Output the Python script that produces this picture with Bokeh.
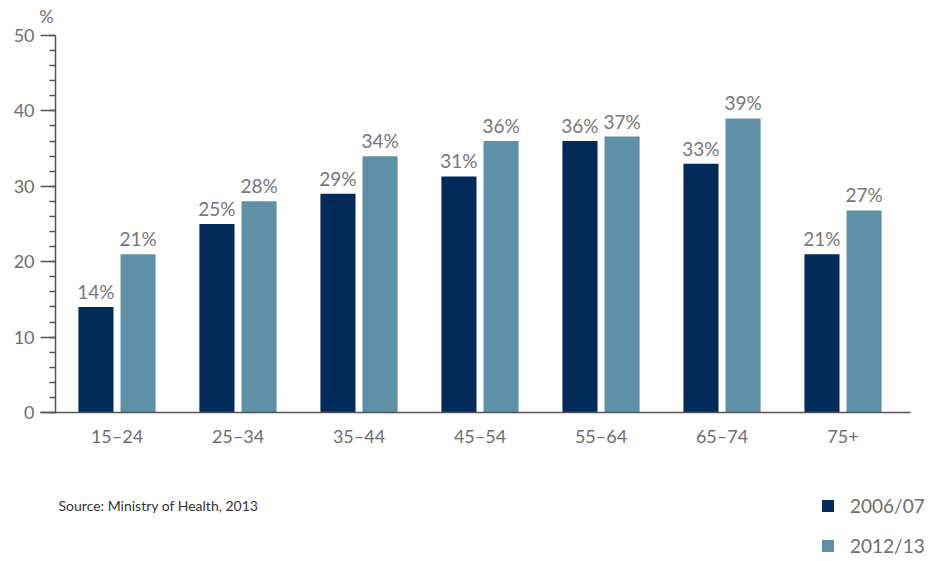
from bokeh.plotting import figure
from bokeh.models import (ColumnDataSource, Range1d, LabelSet, Label, Legend, LegendItem,
                          FixedTicker, LinearAxis)
from bokeh.core.properties import value
from bokeh.transform import dodge
from bokeh.embed import file_html
from bokeh.resources import INLINE

categories = ["15–24", "25–34", "35–44", "45–54", "55–64", "65–74", "75+"]
series_names = ["2006/07", "2012/13"]
values_2006 = [14, 25, 29, 31.3, 36, 33, 21]
values_2012 = [21, 28, 34, 36, 36.6, 39, 26.8]
labels_2006 = ["14%", "25%", "29%", "31%", "36%", "33%", "21%"]
labels_2012 = ["21%", "28%", "34%", "36%", "37%", "39%", "27%"]
y_ticks = [0, 10, 20, 30, 40, 50]

DARK = "#022b5a"
LIGHT = "#5e91a8"
GREY = "#6e6e6e"
FONT = "Lato"

xpos = list(range(len(categories)))
src = ColumnDataSource(dict(x=xpos, v1=values_2006, v2=values_2012,
                            l1=labels_2006, l2=labels_2012))

# frame covers the whole canvas; axes drawn at fixed locations inside it
p = figure(width=934, height=561, x_range=Range1d(-0.9628, 6.756),
           y_range=Range1d(-19.76, 54.64), output_backend="svg", toolbar_location=None,
           x_axis_location=None, y_axis_location=None,
           min_border=0)
p.outline_line_color = None
p.grid.grid_line_color = None
p.background_fill_color = "white"
p.border_fill_color = "white"

r1 = p.vbar(x=dodge("x", -0.174), top="v1", width=0.29, source=src,
            color=DARK, line_color=None)
r2 = p.vbar(x=dodge("x", 0.174), top="v2", width=0.29, source=src,
            color=LIGHT, line_color=None)

for xoff, col, ycol in ((-0.174, "l1", "v1"), (0.174, "l2", "v2")):
    p.add_layout(LabelSet(x=dodge("x", xoff), y=ycol, text=col, source=src,
                          text_align="center", text_baseline="bottom", y_offset=4,
                          text_font=value(FONT), text_font_size="19px",
                          text_color="#777777"))

yaxis = LinearAxis(fixed_location=-0.508, bounds=(0, 50))
yaxis.ticker = FixedTicker(ticks=y_ticks, minor_ticks=list(range(0, 51, 2)))
yaxis.axis_line_color = "#555555"
yaxis.axis_line_width = 1.5
yaxis.major_tick_line_color = "#555555"
yaxis.major_tick_line_width = 1.5
yaxis.major_tick_out = 15
yaxis.major_tick_in = 0
yaxis.minor_tick_line_color = "#555555"
yaxis.minor_tick_line_width = 1.5
yaxis.minor_tick_out = 6
yaxis.minor_tick_in = 0
yaxis.major_label_text_font = FONT
yaxis.major_label_text_font_size = "18px"
yaxis.major_label_text_color = GREY
yaxis.major_label_standoff = 6
p.add_layout(yaxis, "left")

xaxis = LinearAxis(fixed_location=0, bounds=(-0.633, 6.558))
xaxis.ticker = FixedTicker(ticks=xpos, minor_ticks=[])
xaxis.major_label_overrides = {i: c for i, c in zip(xpos, categories)}
xaxis.axis_line_color = "#555555"
xaxis.axis_line_width = 1.5
xaxis.major_tick_line_color = None
xaxis.minor_tick_line_color = None
xaxis.major_tick_out = 0
xaxis.major_tick_in = 0
xaxis.major_label_text_font = FONT
xaxis.major_label_text_font_size = "18px"
xaxis.major_label_text_color = GREY
xaxis.major_label_standoff = 12
p.add_layout(xaxis, "below")

p.add_layout(Label(x=-0.508, y=50, x_offset=-9, y_offset=8, text="%", text_align="center",
                   text_baseline="bottom", text_font=FONT, text_font_size="18px",
                   text_color=GREY))
p.add_layout(Label(x=-0.508, y=-12.33, x_offset=3, text="Source: Ministry of Health, 2013",
                   text_align="left", text_baseline="middle", text_font=FONT,
                   text_font_size="14px", text_color="#333333"))

legend = Legend(items=[LegendItem(label=series_names[0], renderers=[r1]),
                       LegendItem(label=series_names[1], renderers=[r2])],
                location=(820, 4), orientation="vertical",
                glyph_width=15, glyph_height=15, label_height=15, spacing=17,
                label_standoff=15, padding=0, margin=0,
                border_line_color=None, background_fill_alpha=0,
                label_text_font=FONT, label_text_font_size="19px", label_text_color=GREY)
p.add_layout(legend)

open("out.html", "w").write(file_html(p, INLINE))
